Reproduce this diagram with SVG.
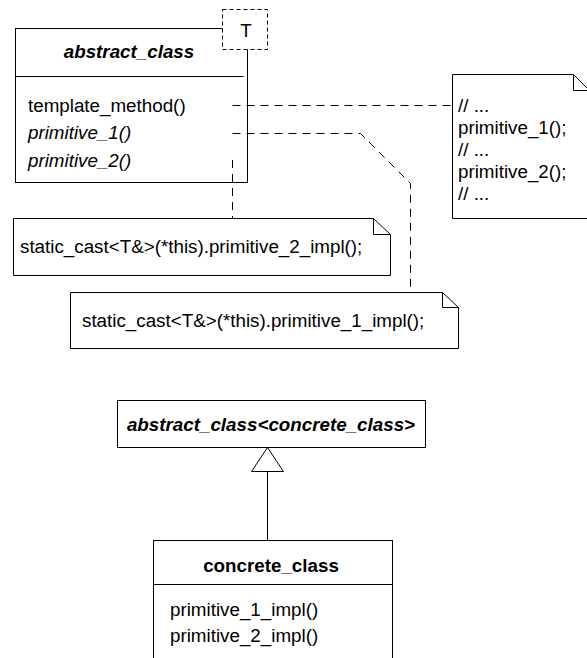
<svg xmlns="http://www.w3.org/2000/svg" width="587" height="658" viewBox="0 0 587 658">
<style>
text { font-family: "Liberation Sans", Arial, sans-serif; font-size: 18.8px; fill: #000; }
.ti { font-weight: bold; font-style: italic; }
.b { font-weight: bold; }
.i { font-style: italic; }
.box { fill: #fff; stroke: #000; stroke-width: 1; }
.ln { fill: none; stroke: #000; stroke-width: 1; }
.dash { fill: none; stroke: #000; stroke-width: 1; stroke-dasharray: 8 6; }
.tdash { fill: #fff; stroke: #000; stroke-width: 1; stroke-dasharray: 4 3; }
</style>
<rect width="587" height="658" fill="#fff"/>
<g id="abstract_class">
  <rect class="box" x="15.5" y="28.5" width="232" height="154"/>
  <line class="ln" x1="15.5" y1="76.5" x2="243.5" y2="76.5"/>
  <text class="ti" x="129" y="58" text-anchor="middle">abstract_class</text>
  <text x="28" y="112">template_method()</text>
  <text class="i" x="28" y="139">primitive_1()</text>
  <text class="i" x="28" y="167">primitive_2()</text>
</g>
<g id="template_param">
  <rect class="tdash" x="222.5" y="9.5" width="45" height="40"/>
  <text x="246" y="37" text-anchor="middle">T</text>
</g>
<g id="connectors">
  <path class="dash" d="M232.5,105.5 H452.5"/>
  <path class="dash" d="M232.5,133.5 H360.5 L410.5,183.5 V292.5"/>
  <path class="dash" d="M232.5,160 V218.5"/>
  <path class="ln" d="M267.5,471.5 V540.5"/>
  <polygon class="box" points="267.5,447.5 251.5,471.5 283.5,471.5"/>
</g>
<g id="note_template">
  <path class="box" d="M452.5,74.5 H573.5 L589.5,90.5 V218.5 H452.5 Z"/>
  <path class="ln" d="M573.5,74.5 V90.5 H589.5"/>
  <text x="458" y="112">// ...</text>
  <text x="458" y="134">primitive_1();</text>
  <text x="458" y="156">// ...</text>
  <text x="458" y="178">primitive_2();</text>
  <text x="458" y="200">// ...</text>
</g>
<g id="note_primitive_2">
  <path class="box" d="M13.5,218.5 H373.5 L390.5,234.5 V275.5 H13.5 Z"/>
  <path class="ln" d="M373.5,218.5 V234.5 H390.5"/>
  <text x="20" y="253">static_cast&lt;T&amp;&gt;(*this).primitive_2_impl();</text>
</g>
<g id="note_primitive_1">
  <path class="box" d="M70.5,292.5 H442.5 L458.5,307.5 V348.5 H70.5 Z"/>
  <path class="ln" d="M442.5,292.5 V307.5 H458.5"/>
  <text x="82" y="327">static_cast&lt;T&amp;&gt;(*this).primitive_1_impl();</text>
</g>
<g id="abstract_class_concrete">
  <rect class="box" x="117.5" y="400.5" width="308" height="47"/>
  <text class="ti" x="271" y="431" text-anchor="middle">abstract_class&lt;concrete_class&gt;</text>
</g>
<g id="concrete_class">
  <rect class="box" x="153.5" y="540.5" width="239" height="130"/>
  <line class="ln" x1="153.5" y1="584.5" x2="392.5" y2="584.5"/>
  <text class="b" x="271" y="572" text-anchor="middle">concrete_class</text>
  <text x="170" y="616">primitive_1_impl()</text>
  <text x="170" y="642">primitive_2_impl()</text>
</g>
</svg>
